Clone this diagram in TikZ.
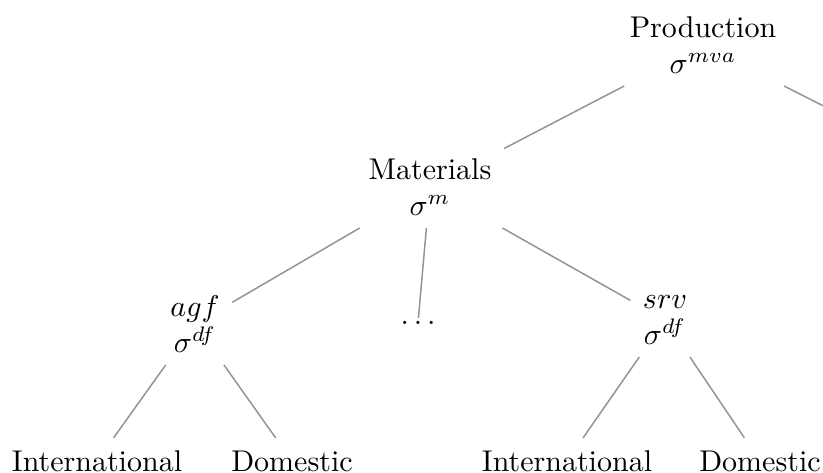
\documentclass[tikz,border=0pt]{standalone}
\begin{document}
\begin{tikzpicture}[x=0.3333pt,y=-0.3333pt,
  tn/.style={align=center,inner sep=4pt,font=\normalsize},
  leaf/.style={inner sep=4pt,text height=7pt,text depth=0pt,font=\normalsize},
  edge/.style={draw=black!42,line width=0.5pt}]
\useasboundingbox (0,0) rectangle (823,473);
\clip (0,0) rectangle (823,473);
\node[tn] (prod) at (703,45) {Production\\$\sigma^{mva}$};
\coordinate (rchild) at (950,170);
\node[tn] (mat) at (430,187) {Materials\\$\sigma^{m}$};
\node[tn] (agf) at (195,324) {$agf$\\$\sigma^{df}$};
\node[inner sep=1pt] (dots) at (418,323) {$\dots$};
\node[tn] (srv) at (665,320) {$srv$\\$\sigma^{df}$};
\node[leaf] (i1) at (97,461) {International};
\node[leaf] (d1) at (292,461) {Domestic};
\node[leaf] (i2) at (567,461) {International};
\node[leaf] (d2) at (760,461) {Domestic};
\draw[edge] (prod) -- (mat);
\draw[edge] (prod) -- (rchild);
\draw[edge] (mat) -- (agf);
\draw[edge] (mat) -- (dots);
\draw[edge] (mat) -- (srv);
\draw[edge] (agf) -- (i1);
\draw[edge] (agf) -- (d1);
\draw[edge] (srv) -- (i2);
\draw[edge] (srv) -- (d2);
\end{tikzpicture}
\end{document}
